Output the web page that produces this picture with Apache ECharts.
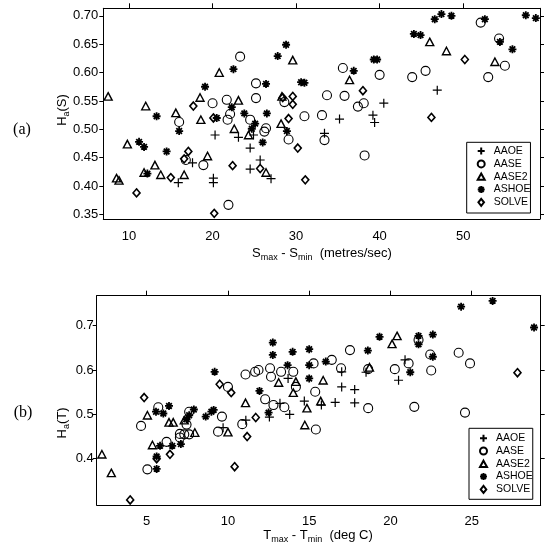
<!DOCTYPE html>
<html>
<head>
<meta charset="utf-8">
<script src="https://cdn.jsdelivr.net/npm/echarts@6/dist/echarts.min.js"></script>
<style>
html, body { margin: 0; padding: 0; background: #fff; }
#main { width: 550px; height: 548px; }
</style>
</head>
<body>
<div id="main"></div>
<script>
var names = ['AAOE', 'AASE', 'AASE2', 'ASHOE', 'SOLVE'];

// panel (a): Smax - Smin (metres/sec) against Ha(S)
var sAAOE = [[15.9,0.406],[17.6,0.441],[20.1,0.414],[20.1,0.406],[20.3,0.490],[23.1,0.486],[24.5,0.467],[24.9,0.490],[24.5,0.430],[25.7,0.446],[27.0,0.413],[33.4,0.493],[35.2,0.518],[39.2,0.525],[39.4,0.512],[40.5,0.546],[46.9,0.569]];
var sAASE = [[16.0,0.513],[16.8,0.446],[18.9,0.437],[20.0,0.546],[21.7,0.552],[21.8,0.517],[21.9,0.367],[22.1,0.527],[23.3,0.628],[24.5,0.517],[25.2,0.581],[25.2,0.555],[26.2,0.496],[26.4,0.502],[28.6,0.548],[29.1,0.482],[31.0,0.523],[33.1,0.525],[33.4,0.481],[33.7,0.560],[35.6,0.608],[35.8,0.559],[37.4,0.540],[38.1,0.546],[38.2,0.454],[40.0,0.596],[43.9,0.592],[45.5,0.603],[52.1,0.688],[53.0,0.592],[54.3,0.660],[55.0,0.612]];
var sAASE2 = [[7.5,0.558],[8.5,0.414],[8.8,0.410],[9.8,0.474],[11.8,0.424],[12.0,0.541],[13.1,0.437],[13.8,0.420],[15.6,0.529],[16.6,0.420],[18.5,0.556],[18.6,0.517],[19.4,0.453],[20.8,0.600],[22.6,0.501],[23.1,0.551],[24.3,0.490],[26.4,0.424],[28.2,0.510],[28.3,0.558],[29.6,0.622],[36.4,0.587],[46.0,0.654],[48.0,0.638],[53.8,0.619]];
var sASHOE = [[11.2,0.478],[11.8,0.469],[12.2,0.422],[13.3,0.523],[14.5,0.461],[16.0,0.497],[19.1,0.575],[20.5,0.520],[22.3,0.539],[22.5,0.606],[23.8,0.528],[24.7,0.501],[25.1,0.510],[26.0,0.477],[26.4,0.580],[26.5,0.528],[27.8,0.629],[28.8,0.649],[28.9,0.497],[30.6,0.583],[31.0,0.582],[36.9,0.603],[39.3,0.623],[39.7,0.623],[44.1,0.668],[44.9,0.666],[46.6,0.694],[47.4,0.703],[48.6,0.700],[52.6,0.694],[54.4,0.654],[55.9,0.641],[57.5,0.701],[58.7,0.696]];
var sSOLVE = [[10.9,0.388],[15.0,0.415],[16.6,0.448],[17.1,0.461],[17.7,0.541],[20.1,0.520],[20.2,0.352],[22.4,0.436],[25.7,0.431],[28.4,0.556],[29.1,0.519],[29.6,0.558],[29.6,0.544],[30.2,0.467],[31.1,0.411],[38.0,0.568],[46.2,0.521],[50.2,0.623]];

// panel (b): Tmax - Tmin (deg C) against Ha(T)
var tAAOE = [[9.7,0.470],[11.1,0.487],[12.55,0.494],[13.2,0.525],[13.7,0.581],[13.8,0.500],[14.7,0.530],[15.75,0.521],[16.6,0.527],[17.0,0.596],[17.0,0.562],[17.8,0.556],[17.8,0.526],[18.5,0.595],[20.5,0.577],[20.9,0.623]];
var tAASE = [[4.65,0.474],[5.04,0.376],[5.71,0.516],[6.22,0.438],[7.04,0.456],[7.31,0.455],[7.61,0.455],[7.04,0.448],[7.45,0.477],[7.61,0.506],[9.39,0.461],[9.63,0.495],[10.0,0.562],[10.88,0.478],[11.08,0.590],[11.67,0.596],[11.88,0.600],[12.29,0.534],[12.59,0.604],[12.65,0.585],[12.80,0.521],[13.27,0.596],[13.47,0.516],[14.02,0.596],[14.18,0.562],[15.27,0.615],[15.37,0.551],[15.41,0.466],[16.39,0.623],[16.96,0.604],[17.51,0.645],[18.63,0.514],[18.63,0.602],[20.27,0.602],[21.12,0.615],[21.47,0.517],[21.73,0.668],[22.45,0.635],[22.51,0.599],[24.2,0.639],[24.59,0.504],[24.9,0.615]];
var tAASE2 = [[2.24,0.410],[2.82,0.368],[5.04,0.498],[5.35,0.431],[6.37,0.482],[6.63,0.482],[7.31,0.487],[7.96,0.459],[10.0,0.460],[11.08,0.526],[13.12,0.572],[14.02,0.549],[14.18,0.574],[14.73,0.476],[14.86,0.514],[15.71,0.530],[15.86,0.577],[18.71,0.606],[20.1,0.659],[20.41,0.677]];
var tASHOE = [[5.57,0.506],[5.61,0.405],[5.61,0.377],[5.82,0.429],[6.02,0.502],[6.37,0.519],[6.57,0.429],[7.10,0.433],[7.45,0.489],[7.61,0.498],[7.90,0.511],[8.63,0.495],[8.98,0.506],[9.12,0.510],[9.18,0.596],[11.94,0.553],[12.50,0.504],[12.76,0.662],[12.76,0.634],[13.67,0.611],[13.98,0.641],[15.0,0.647],[15.0,0.611],[15.0,0.581],[16.02,0.619],[18.61,0.644],[19.33,0.675],[21.22,0.595],[21.73,0.677],[21.73,0.658],[22.61,0.680],[22.61,0.630],[24.35,0.743],[26.29,0.756],[28.84,0.696]];
var tSOLVE = [[3.98,0.307],[4.84,0.538],[5.61,0.400],[6.43,0.410],[9.49,0.568],[10.2,0.549],[10.41,0.382],[11.18,0.450],[11.71,0.493],[27.82,0.594]];

// tick values
var sTicksX = [10, 20, 30, 40, 50];
var sTicksY = [0.35, 0.40, 0.45, 0.50, 0.55, 0.60, 0.65, 0.70];
var tTicksX = [5, 10, 15, 20, 25];
var tTicksY = [0.4, 0.5, 0.6, 0.7];

var FONT = '"Liberation Sans", Arial, sans-serif';
var SERIF = '"Liberation Serif", "DejaVu Serif", serif';

var marks = {
  AAOE:  { symbol: 'path://M5,0V10M0,5H10', size: 9, width: 1.2 },
  AASE:  { symbol: 'circle', size: 9, width: 1.1 },
  AASE2: { symbol: 'path://M5,0L10,9L0,9Z', size: [8, 7.5], width: 1.4 },
  ASHOE: { symbol: 'path://M5,0V10M0,5H10M1.5,1.5L8.5,8.5M1.5,8.5L8.5,1.5', size: 8, width: 1.8 },
  SOLVE: { symbol: 'path://M4,0L8,5L4,10L0,5Z', size: [7, 8], width: 1.6 }
};

function makeSeries(name, data, idx) {
  var m = marks[name];
  return {
    name: name,
    type: 'scatter',
    xAxisIndex: idx,
    yAxisIndex: idx,
    data: data,
    symbol: m.symbol,
    symbolSize: m.size,
    itemStyle: { color: 'transparent', borderColor: '#000', borderWidth: m.width, opacity: 1 },
    emphasis: { disabled: true },
    animation: false
  };
}

function bottomAxis(grid, min, max, ticks, margin) {
  return {
    type: 'value', gridIndex: grid, position: 'bottom', min: min, max: max,
    axisLine: { show: true, onZero: false, lineStyle: { color: '#000', width: 1 } },
    axisTick: { show: false },
    axisLabel: { customValues: ticks, margin: margin, color: '#000', fontSize: 13, fontFamily: FONT },
    splitLine: { show: false }
  };
}
function topAxis(grid, min, max, ticks) {
  return {
    type: 'value', gridIndex: grid, position: 'top', min: min, max: max,
    axisLine: { show: true, onZero: false, lineStyle: { color: '#000', width: 1 } },
    axisTick: { show: true, customValues: ticks, length: 5, lineStyle: { color: '#000' } },
    axisLabel: { show: false },
    splitLine: { show: false }
  };
}
function leftAxis(grid, min, max, ticks, digits, margin) {
  return {
    type: 'value', gridIndex: grid, position: 'left', min: min, max: max,
    axisLine: { show: true, onZero: false, lineStyle: { color: '#000', width: 1 } },
    axisTick: { show: true, customValues: ticks, length: 4, lineStyle: { color: '#000' } },
    axisLabel: { customValues: ticks, margin: margin, color: '#000', fontSize: 13, fontFamily: FONT,
      formatter: function (v) { return v.toFixed(digits); } },
    splitLine: { show: false }
  };
}
function rightAxis(grid, min, max, ticks) {
  return {
    type: 'value', gridIndex: grid, position: 'right', min: min, max: max,
    axisLine: { show: true, onZero: false, lineStyle: { color: '#000', width: 1 } },
    axisTick: { show: true, customValues: ticks, length: 4, lineStyle: { color: '#000' } },
    axisLabel: { show: false },
    splitLine: { show: false }
  };
}

function legendBox(left, top, pad) {
  return {
    data: names, orient: 'vertical', left: left, top: top,
    borderColor: '#000', borderWidth: 1, borderRadius: 0,
    padding: pad, itemGap: 0, itemWidth: 7, itemHeight: 7,
    selectedMode: false,
    textStyle: { color: '#000', fontSize: 10.5, lineHeight: 12.8, fontFamily: FONT, padding: [0, 0, 0, 4] }
  };
}

var sub = { fontSize: 9, fontFamily: FONT, verticalAlign: 'bottom', fill: '#000' };
var big = { fontSize: 13, fontFamily: FONT, lineHeight: 18, fill: '#000' };

var myChart = echarts.init(document.getElementById('main'));

var option = {
  backgroundColor: '#fff',
  animation: false,
  grid: [
    { left: 103.3, top: 8.3, width: 436.7, height: 210.5 },
    { left: 96.7, top: 295.7, width: 444, height: 209.3 }
  ],
  xAxis: [
    bottomAxis(0, 6.92, 59.2, sTicksX, 11.5),
    topAxis(0, 6.92, 59.2, sTicksX),
    bottomAxis(1, 1.92, 29.25, tTicksX, 10),
    topAxis(1, 1.92, 29.25, tTicksX)
  ],
  yAxis: [
    leftAxis(0, 0.3424, 0.7132, sTicksY, 2, 5),
    rightAxis(0, 0.3424, 0.7132, sTicksY),
    leftAxis(1, 0.2956, 0.7677, tTicksY, 1, 3),
    rightAxis(1, 0.2956, 0.7677, tTicksY)
  ],
  legend: [
    legendBox(466.7, 142.3, [2.4, 0, 4.3, 10]),
    legendBox(469, 428.3, [3.5, 0, 3.5, 10])
  ],
  graphic: [
    { type: 'text', x: 22, y: 130, style: { text: '(a)', font: '16px ' + SERIF, fill: '#000', align: 'center', verticalAlign: 'middle' } },
    { type: 'text', x: 23, y: 413, style: { text: '(b)', font: '16px ' + SERIF, fill: '#000', align: 'center', verticalAlign: 'middle' } },
    { type: 'text', x: 62, y: 110, rotation: Math.PI / 2,
      style: { text: '{n|H}{s|a}{n|(S)}', rich: { n: big, s: sub }, align: 'center', verticalAlign: 'middle' } },
    { type: 'text', x: 62, y: 423, rotation: Math.PI / 2,
      style: { text: '{n|H}{s|a}{n|(T)}', rich: { n: big, s: sub }, align: 'center', verticalAlign: 'middle' } },
    { type: 'text', x: 322, y: 253,
      style: { text: '{n|S}{s|max}{n| - S}{s|min}{n|  (metres/sec)}', rich: { n: big, s: sub }, align: 'center', verticalAlign: 'middle' } },
    { type: 'text', x: 318, y: 535,
      style: { text: '{n|T}{s|max}{n| - T}{s|min}{n|  (deg C)}', rich: { n: big, s: sub }, align: 'center', verticalAlign: 'middle' } }
  ],
  series: [
    makeSeries('AAOE', sAAOE, 0),
    makeSeries('AASE', sAASE, 0),
    makeSeries('AASE2', sAASE2, 0),
    makeSeries('ASHOE', sASHOE, 0),
    makeSeries('SOLVE', sSOLVE, 0),
    makeSeries('AAOE', tAAOE, 2),
    makeSeries('AASE', tAASE, 2),
    makeSeries('AASE2', tAASE2, 2),
    makeSeries('ASHOE', tASHOE, 2),
    makeSeries('SOLVE', tSOLVE, 2)
  ]
};

myChart.setOption(option);
</script>
</body>
</html>
